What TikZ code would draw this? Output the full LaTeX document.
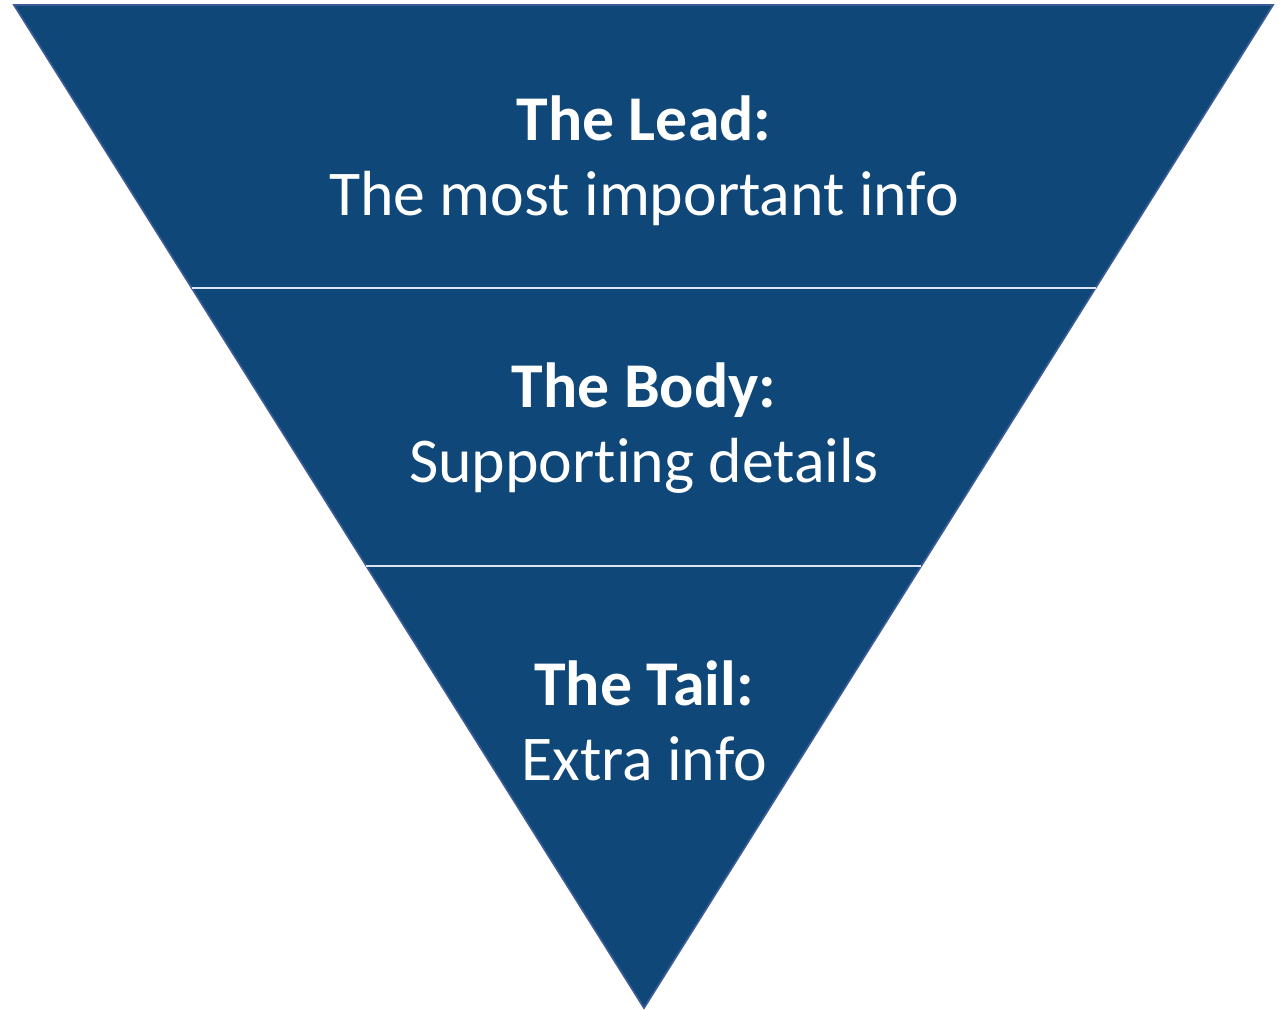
\documentclass[tikz,border=0pt]{standalone}
\usepackage{fontspec}
\setmainfont{Carlito}[Ligatures={NoCommon}]
\usepackage{xcolor}
\usetikzlibrary{calc,positioning}

\definecolor{funnelblue}{HTML}{0E4778}
\definecolor{funneledge}{HTML}{3A5B96}
\definecolor{bandline}{HTML}{DCE4F0}

\tikzset{
  heading/.style={text=white, anchor=base, font=\fontsize{36.3}{44}\selectfont\bfseries, inner sep=0pt},
  subline/.style={text=white, anchor=base, font=\fontsize{36.3}{44}\selectfont, inner sep=0pt},
  band/.style={draw=bandline, line width=1.2pt},
}

\begin{document}
\begin{tikzpicture}[x=0.02cm, y=-0.02cm]
  \useasboundingbox (0,0) rectangle (1281,1009);

  \coordinate (tl) at (14,5);
  \coordinate (tr) at (1273,5);
  \coordinate (apex) at (644,1008);

  % the funnel
  \fill[funnelblue, draw=funneledge, line width=1pt, line join=miter] (tl) -- (tr) -- (apex) -- cycle;

  % band borders
  \coordinate (l1) at ($(tl)!0.2822!(apex)$);
  \coordinate (r1) at ($(tr)!0.2822!(apex)$);
  \coordinate (l2) at ($(tl)!0.5593!(apex)$);
  \coordinate (r2) at ($(tr)!0.5593!(apex)$);
  \draw[band] (l1) -- (r1);
  \draw[band] (l2) -- (r2);

  \node[heading] (lead) at (644,140) {The Lead:};
  \node[subline] (leadtxt) at (644,215) {The most important info};

  \node[heading] (body) at (644,407) {The Body:};
  \node[subline] (bodytxt) at (644,482) {Supporting details};

  \node[heading] (tail) at (644,705) {The Tail:};
  \node[subline] (tailtxt) at (644,780) {Extra info};

\end{tikzpicture}
\end{document}
